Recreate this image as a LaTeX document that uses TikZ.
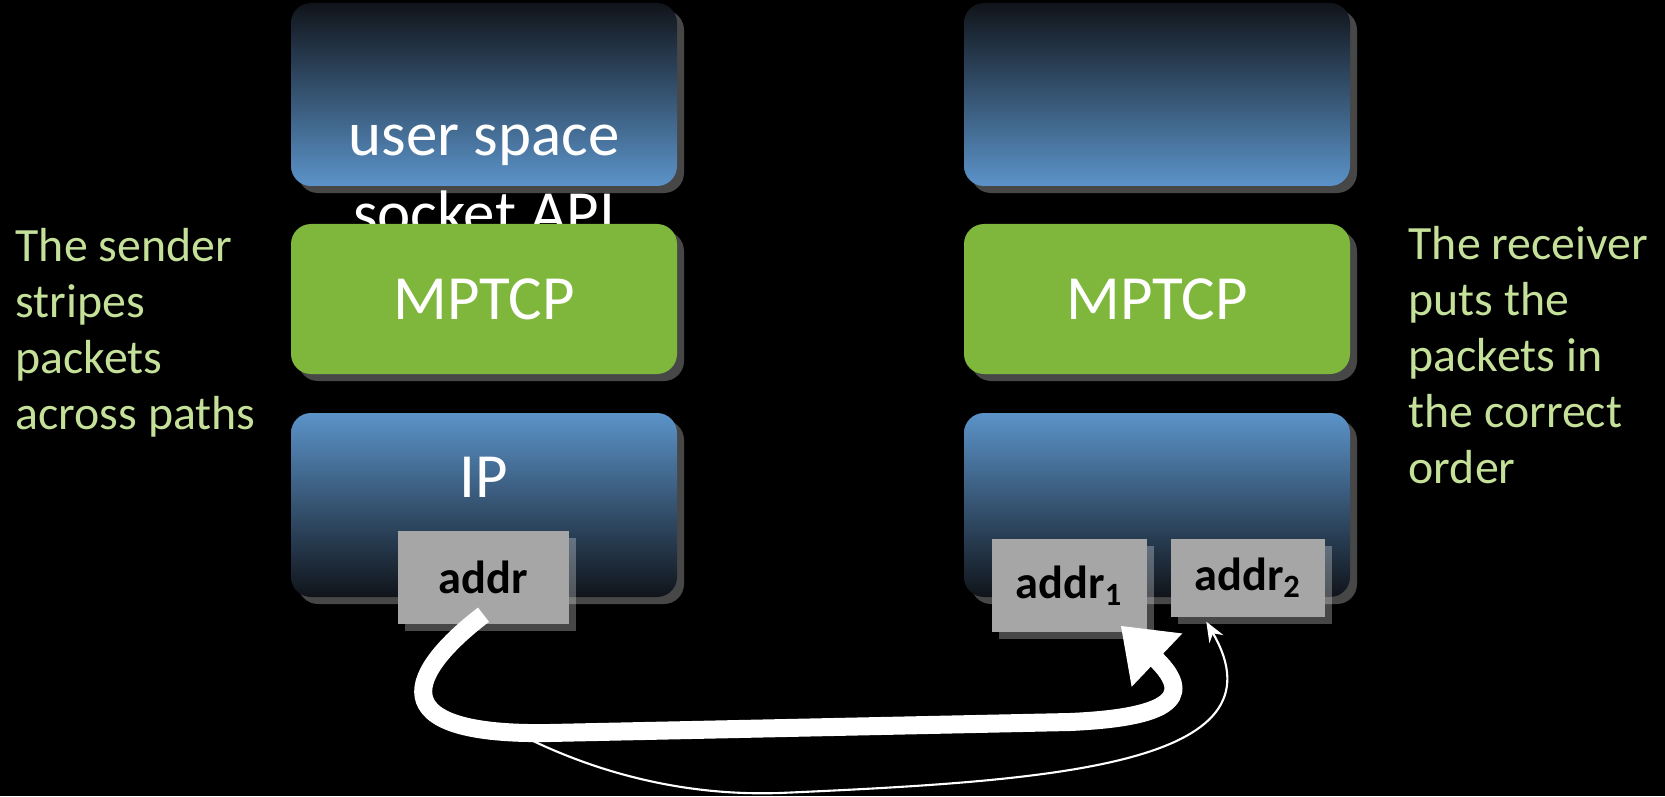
\documentclass[tikz,border=0pt]{standalone}
\usepackage{fontspec}
\setmainfont{Carlito}
\usetikzlibrary{arrows.meta,shadows}
\definecolor{layerblue}{RGB}{91,147,201}
\definecolor{layerdark}{RGB}{16,20,26}
\definecolor{mptcpgreen}{RGB}{127,183,61}
\definecolor{notegreen}{RGB}{197,224,153}
\definecolor{addrgray}{RGB}{166,166,166}
\tikzset{
  halo/.style={drop shadow={shadow xshift=0.07cm, shadow yshift=-0.07cm, fill=white, opacity=0.28}},
  layer/.style={halo, rounded corners=0.2cm, minimum width=3.86cm, inner sep=0pt},
  upper/.style={layer, minimum height=1.83cm, top color=layerdark, bottom color=layerblue},
  lower/.style={layer, minimum height=1.84cm, top color=layerblue, bottom color=layerdark},
  mptcp/.style={layer, minimum height=1.5cm, fill=mptcpgreen, text=white, font=\fontsize{17.9}{22.2}\selectfont},
  addrbox/.style={halo, fill=addrgray, minimum height=0.93cm, inner sep=0pt, font=\fontsize{13.2}{15}\selectfont\bfseries},
  bigtext/.style={text=white, font=\fontsize{17.9}{22.2}\selectfont, align=center},
  note/.style={text=notegreen, font=\fontsize{13.6}{15.9}\selectfont, align=left, inner sep=0pt, anchor=north west},
  fatarrow/.style={draw=white, line width=0.18cm, -{Triangle[length=0.5cm,width=0.7cm]}},
  thinarrow/.style={draw=white, line width=0.6pt, -{Stealth[length=0.2cm,width=0.16cm]}}
}
\begin{document}
\begin{tikzpicture}
  \fill[black] (0,0) rectangle (16.65,7.96);
  \useasboundingbox (0,0) rectangle (16.65,7.96);

  \node[upper] (userL) at (4.84,7.015) {};
  \node[upper] (userR) at (11.57,7.015) {};
  \node[bigtext, anchor=base] (usertext) at (4.84,5.62) {user space\\socket API};

  \node[mptcp] (mptcpL) at (4.84,4.97) {MPTCP};
  \node[mptcp] (mptcpR) at (11.57,4.97) {MPTCP};

  \node[lower] (ipL) at (4.84,2.91) {};
  \node[lower] (ipR) at (11.57,2.91) {};
  \node[bigtext, anchor=base] (iptext) at (4.84,2.99) {IP};

  \node[addrbox, minimum width=1.71cm] (addr) at (4.835,2.185) {addr};
  \node[addrbox, minimum width=1.55cm] (addr1) at (10.695,2.105) {addr\textsubscript{1}};
  \node[addrbox, minimum width=1.54cm, minimum height=0.78cm] (addr2) at (12.48,2.18) {addr\textsubscript{2}};

  \coordinate (split) at (5.15,0.64);
  \draw[thinarrow] (split) .. controls (6.0,0.2) and (6.9,0.0) .. (7.8,0.03)
    .. controls (10.5,0.15) and (12.9,0.3) .. ([xshift=0.36cm,yshift=-0.04cm]addr2.south west);
  \draw[fatarrow] ([yshift=0.1cm]addr.south) .. controls (4.1,1.25) and (3.75,0.6) .. (5.5,0.63)
    -- (10.7,0.74) .. controls (11.6,0.78) and (12.0,0.95) .. ([xshift=-0.27cm,yshift=0.07cm]addr1.south east);

  \node[note] (sendnote) at (0.15,5.68) {The sender\\stripes\\packets\\across paths};
  \node[note] (recvnote) at (14.08,5.70) {The receiver\\puts the\\packets in\\the correct\\order};
\end{tikzpicture}
\end{document}
